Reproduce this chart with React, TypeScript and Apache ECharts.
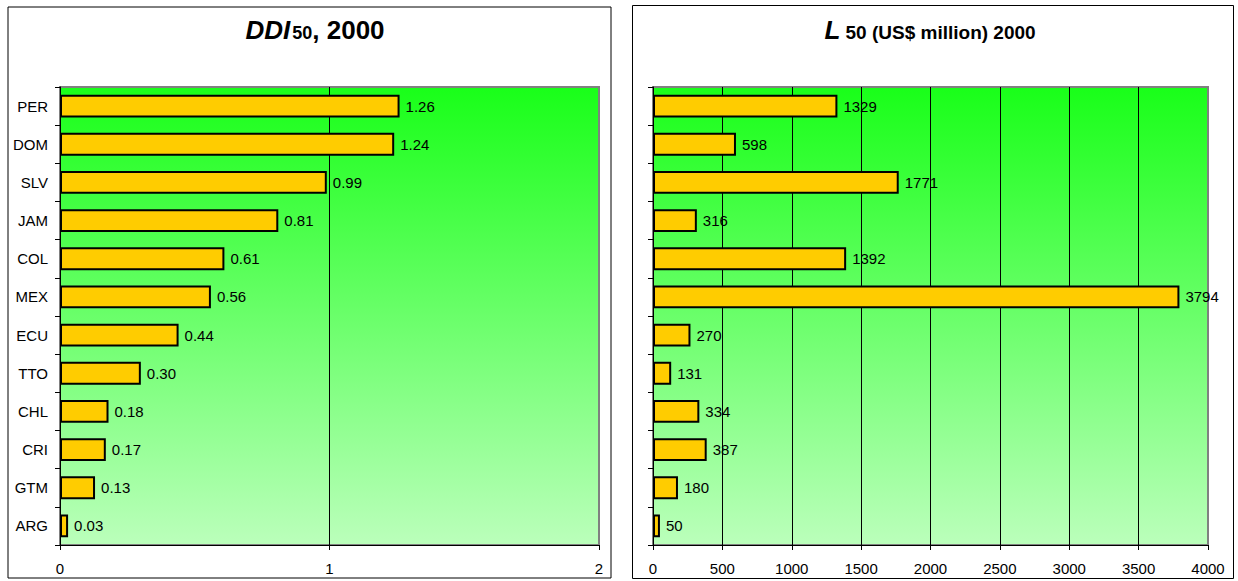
import React, { useEffect, useRef } from "react";
import * as echarts from "echarts";

const categories = ["PER", "DOM", "SLV", "JAM", "COL", "MEX", "ECU", "TTO", "CHL", "CRI", "GTM", "ARG"];
const ddiValues = [1.26, 1.24, 0.99, 0.81, 0.61, 0.56, 0.44, 0.3, 0.18, 0.17, 0.13, 0.03];
const lValues = [1329, 598, 1771, 316, 1392, 3794, 270, 131, 334, 387, 180, 50];
const ddiTicks = { min: 0, max: 2, interval: 1 };
const lTicks = { min: 0, max: 4000, interval: 500 };

const FONT = "'Liberation Sans', Arial, sans-serif";

export default function App() {
  const ref = useRef<HTMLDivElement>(null);
  useEffect(() => {
    if (!ref.current) return;
    const chart = echarts.init(ref.current, undefined, { renderer: "svg" });
    const bg = () =>
      new echarts.graphic.LinearGradient(0, 0, 0, 1, [
        { offset: 0, color: "#19ff19" },
        { offset: 1, color: "#bbffbb" },
      ]);
    const yAxisBase = (gridIndex: number) => ({
      type: "category" as const,
      gridIndex,
      data: categories,
      inverse: true,
      axisLine: { show: true, lineStyle: { color: "#000", width: 1 } },
      axisTick: { show: true, length: 5, lineStyle: { color: "#000" } },
      axisLabel: { show: gridIndex === 0, color: "#000", fontSize: 15, fontFamily: FONT, margin: 12 },
    });
    const xAxisBase = (gridIndex: number, t: { min: number; max: number; interval: number }) => ({
      type: "value" as const,
      gridIndex,
      min: t.min,
      max: t.max,
      interval: t.interval,
      axisLine: { show: true, lineStyle: { color: "#000", width: 1 } },
      axisTick: { show: true, length: 5, lineStyle: { color: "#000" } },
      axisLabel: { color: "#000", fontSize: 15, fontFamily: FONT, margin: 16, formatter: (v: number) => String(v) },
      splitLine: { show: true, showMinLine: false, showMaxLine: false, lineStyle: { color: "#000", width: 1 } },
    });
    const barSeries = (idx: number, data: number[], fmt: (v: number) => string) => ({
      type: "bar" as const,
      xAxisIndex: idx,
      yAxisIndex: idx,
      data,
      barWidth: "60%",
      itemStyle: { color: "#ffcc00", borderColor: "#000", borderWidth: 2 },
      label: {
        show: true,
        position: "right" as const,
        distance: 6,
        color: "#000",
        fontSize: 15,
        fontFamily: FONT,
        formatter: (p: any) => fmt(p.value),
      },
    });
    chart.setOption({
      animation: false,
      backgroundColor: "#fff",
      grid: [
        { left: 60, top: 87, width: 539, height: 458, show: true, backgroundColor: bg(), borderColor: "#808080", borderWidth: 2 },
        { left: 653, top: 87, width: 555, height: 458, show: true, backgroundColor: bg(), borderColor: "#808080", borderWidth: 2 },
      ],
      xAxis: [xAxisBase(0, ddiTicks), xAxisBase(1, lTicks)],
      yAxis: [yAxisBase(0), yAxisBase(1)],
      series: [
        barSeries(0, ddiValues, (v) => v.toFixed(2)),
        barSeries(1, lValues, (v) => String(v)),
      ],
      graphic: [
        { type: "rect", shape: { x: 8, y: 7, width: 603, height: 571 }, style: { fill: "none", stroke: "#000", lineWidth: 1 }, silent: true },
        { type: "rect", shape: { x: 632.5, y: 5.5, width: 601, height: 573 }, style: { fill: "none", stroke: "#000", lineWidth: 1 }, silent: true },
        {
          type: "text",
          x: 315,
          y: 30,
          style: {
            text: "{a|DDI}{b|50}{c|, 2000}",
            align: "center",
            verticalAlign: "middle",
            fill: "#000",
            rich: {
              a: { fontSize: 26, fontWeight: "bold", fontStyle: "italic", fontFamily: FONT, fill: "#000" },
              b: { fontSize: 18, fontWeight: "bold", fontFamily: FONT, fill: "#000", padding: [5, 0, 0, 2] },
              c: { fontSize: 26, fontWeight: "bold", fontFamily: FONT, fill: "#000" },
            },
          },
        },
        {
          type: "text",
          x: 930,
          y: 30,
          style: {
            text: "{a|L}{b| 50 (US$ million) 2000}",
            align: "center",
            verticalAlign: "middle",
            fill: "#000",
            rich: {
              a: { fontSize: 26, fontWeight: "bold", fontStyle: "italic", fontFamily: FONT, fill: "#000" },
              b: { fontSize: 19, fontWeight: "bold", fontFamily: FONT, fill: "#000", padding: [4, 0, 0, 0] },
            },
          },
        },
      ],
    });
    return () => chart.dispose();
  }, []);
  return <div ref={ref} style={{ position: "fixed", left: 0, top: 0, width: 1238, height: 581 }} />;
}
